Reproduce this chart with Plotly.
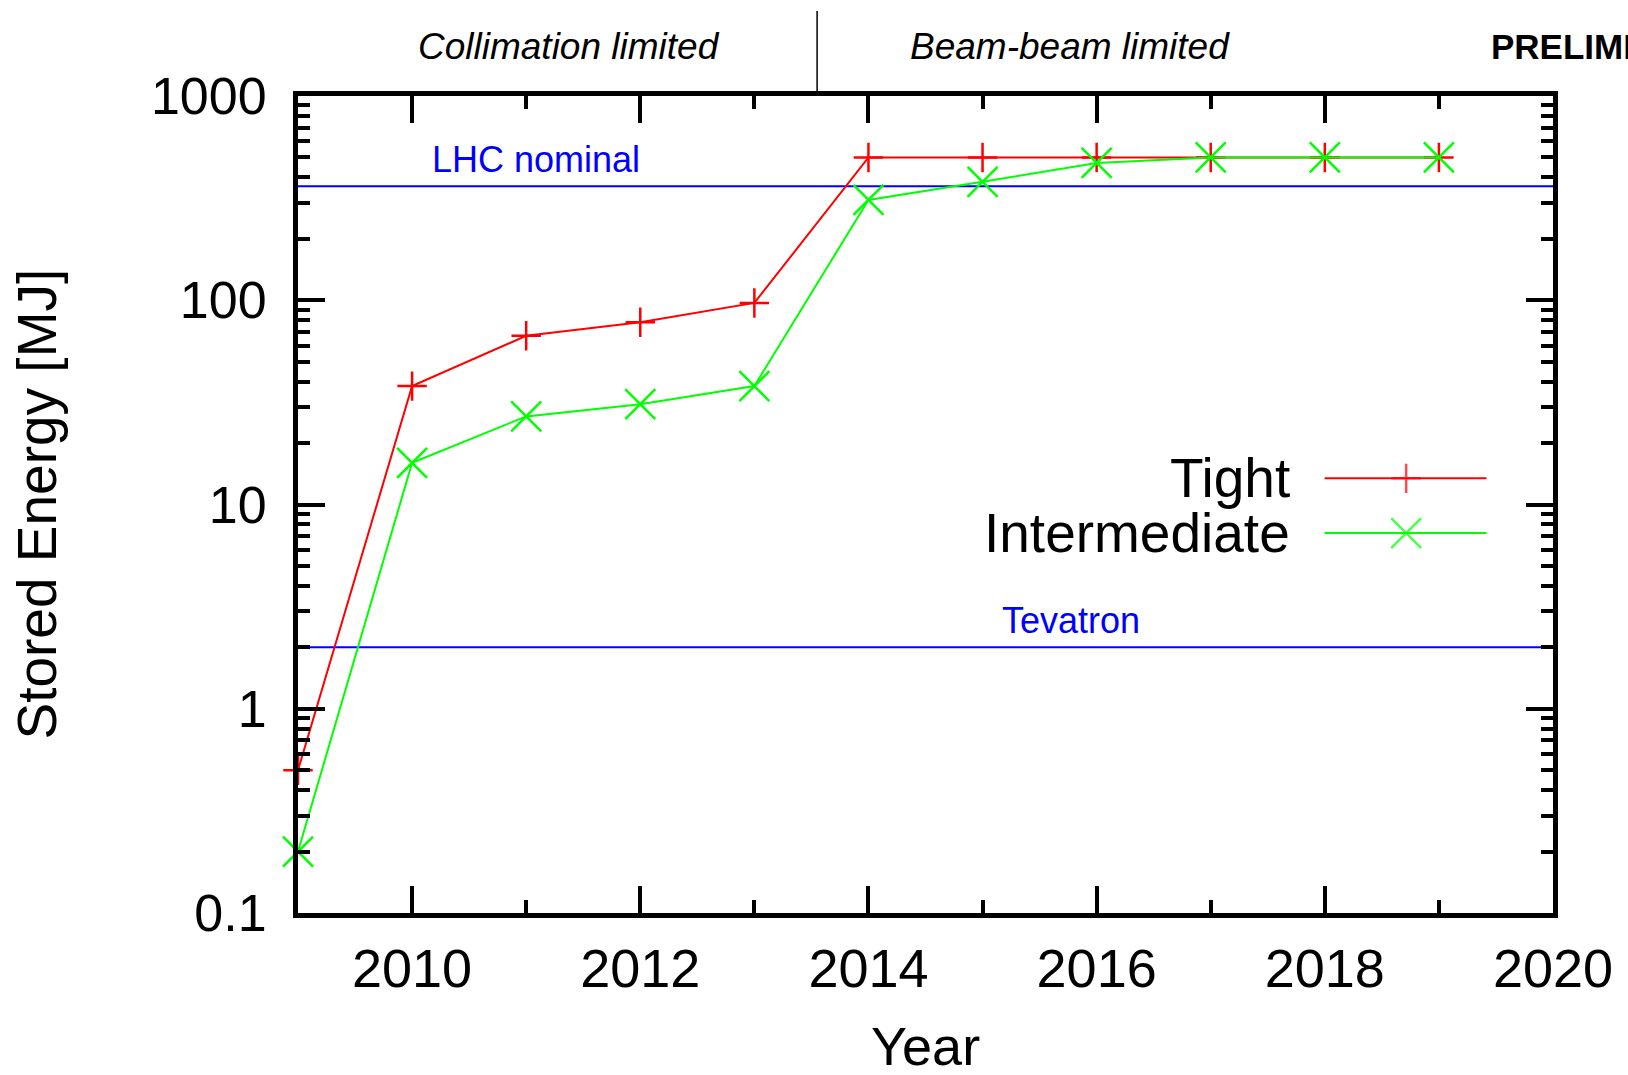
import plotly.graph_objects as go

# Stored beam energy projections per year (MJ)
years = [2009, 2010, 2011, 2012, 2013, 2014, 2015, 2016, 2017, 2018, 2019]
tight = [0.5, 38, 67, 78, 97, 500, 500, 500, 500, 500, 500]
intermediate = [0.2, 16, 27, 31, 38, 310, 380, 470, 500, 500, 500]

# Reference machines (MJ)
lhc_nominal = 362
tevatron = 2.0

# Axis ticks
y_tickvals = [0.1, 1, 10, 100, 1000]
y_ticktext = ["0.1", "1", "10", "100", "1000"]
y_minor = [m * 10 ** e for e in range(-1, 3) for m in range(2, 10)]

FONT = "Liberation Sans, Arial, Helvetica, sans-serif"
RED = "#ff0000"
GREEN = "#00ff00"
BLUE = "#0000ff"

fig = go.Figure()

fig.add_trace(go.Scatter(
    x=years, y=tight, mode="lines+markers", name="Tight",
    line=dict(color=RED, width=2),
    marker=dict(symbol="cross-thin", size=21, line=dict(color=RED, width=2.5)),
    cliponaxis=False, showlegend=False,
))
fig.add_trace(go.Scatter(
    x=years, y=intermediate, mode="lines+markers", name="Intermediate",
    line=dict(color=GREEN, width=2),
    marker=dict(symbol="x-thin", size=30, line=dict(color=GREEN, width=2.5)),
    cliponaxis=False, showlegend=False,
))

# Key drawn gnuplot-style: label on the left, sample on the right
key_x = [0.818, 0.883, 0.947]
key_rows = [("Tight", 0.532, RED, "cross-thin", 21),
            ("Intermediate", 0.465, GREEN, "x-thin", 30)]
for label, ky, col, sym, sz in key_rows:
    fig.add_trace(go.Scatter(
        x=key_x, y=[ky] * 3, xaxis="x2", yaxis="y2",
        mode="lines+markers", showlegend=False, hoverinfo="skip",
        line=dict(color=col, width=2),
        marker=dict(symbol=sym, size=[0, sz, 0], line=dict(color=col, width=2.5)),
        cliponaxis=False,
    ))
    fig.add_annotation(x=0.792, y=ky, xref="paper", yref="paper",
                       text=label, showarrow=False, xanchor="right", yanchor="middle",
                       font=dict(family=FONT, size=55, color="black"))

# Reference lines
for val in (lhc_nominal, tevatron):
    fig.add_shape(type="line", xref="paper", yref="y", x0=0, x1=1, y0=val, y1=val,
                  line=dict(color=BLUE, width=2), layer="below")
fig.add_annotation(x=0.1895, y=1.0, xref="paper", yref="paper", yshift=-63,
                   text="LHC nominal", showarrow=False, xanchor="center", yanchor="middle",
                   font=dict(family=FONT, size=36, color=BLUE))
fig.add_annotation(x=0.6159, y=(913 - 620) / 817, xref="paper", yref="paper",
                   text="Tevatron", showarrow=False, xanchor="center", yanchor="middle",
                   font=dict(family=FONT, size=36, color=BLUE))

# Regime labels above the frame
fig.add_shape(type="line", xref="x", yref="paper", x0=2013.55, x1=2013.55, y0=1.0, y1=1.104,
              line=dict(color="black", width=1.5))
fig.add_annotation(x=0.2159, y=1.06, xref="paper", yref="paper",
                   text="<i>Collimation limited</i>", showarrow=False,
                   xanchor="center", yanchor="middle",
                   font=dict(family=FONT, size=37, color="black"))
fig.add_annotation(x=0.615, y=1.06, xref="paper", yref="paper",
                   text="<i>Beam-beam limited</i>", showarrow=False,
                   xanchor="center", yanchor="middle",
                   font=dict(family=FONT, size=37, color="black"))
fig.add_annotation(x=0.9490, y=1.06, xref="paper", yref="paper",
                   text="<b>PRELIMINARY</b>", showarrow=False,
                   xanchor="left", yanchor="middle",
                   font=dict(family=FONT, size=35, color="black"))

# Axis titles
fig.add_annotation(x=(36 - 298) / 1255, y=0.5, xref="paper", yref="paper",
                   text="Stored Energy [MJ]", textangle=-90, showarrow=False,
                   xanchor="center", yanchor="middle",
                   font=dict(family=FONT, size=55, color="black"))
fig.add_annotation(x=0.5, y=(913 - 1046) / 817, xref="paper", yref="paper",
                   text="Year", showarrow=False, xanchor="center", yanchor="middle",
                   font=dict(family=FONT, size=54, color="black"))

fig.update_layout(
    width=1628, height=1075,
    margin=dict(l=298, r=75, t=96, b=162, pad=0),
    paper_bgcolor="white", plot_bgcolor="white",
    showlegend=False,
    font=dict(family=FONT, color="black"),
    xaxis=dict(
        range=[2009, 2020], showgrid=False, zeroline=False,
        showline=True, linecolor="black", linewidth=5, mirror="allticks",
        ticks="inside", ticklen=27, tickwidth=4, tickcolor="black",
        tick0=2010, dtick=2,
        tickfont=dict(family=FONT, size=54, color="black"),
        ticklabelstandoff=4,
        minor=dict(ticks="inside", ticklen=13, tickwidth=4, tickcolor="black",
                   dtick=1, tick0=2009, showgrid=False),
    ),
    yaxis=dict(
        type="log", range=[-1, 3], showgrid=False, zeroline=False,
        showline=True, linecolor="black", linewidth=5, mirror="allticks",
        ticks="inside", ticklen=27, tickwidth=4, tickcolor="black",
        tickmode="array", tickvals=y_tickvals, ticktext=y_ticktext,
        tickfont=dict(family=FONT, size=52, color="black"),
        ticklabelstandoff=16,
        minor=dict(ticks="inside", ticklen=12, tickwidth=4, tickcolor="black",
                   tickmode="array", tickvals=y_minor, showgrid=False),
    ),
    xaxis2=dict(overlaying="x", range=[0, 1], visible=False, fixedrange=True),
    yaxis2=dict(overlaying="y", range=[0, 1], visible=False, fixedrange=True),
)

fig.write_html("out.html")
